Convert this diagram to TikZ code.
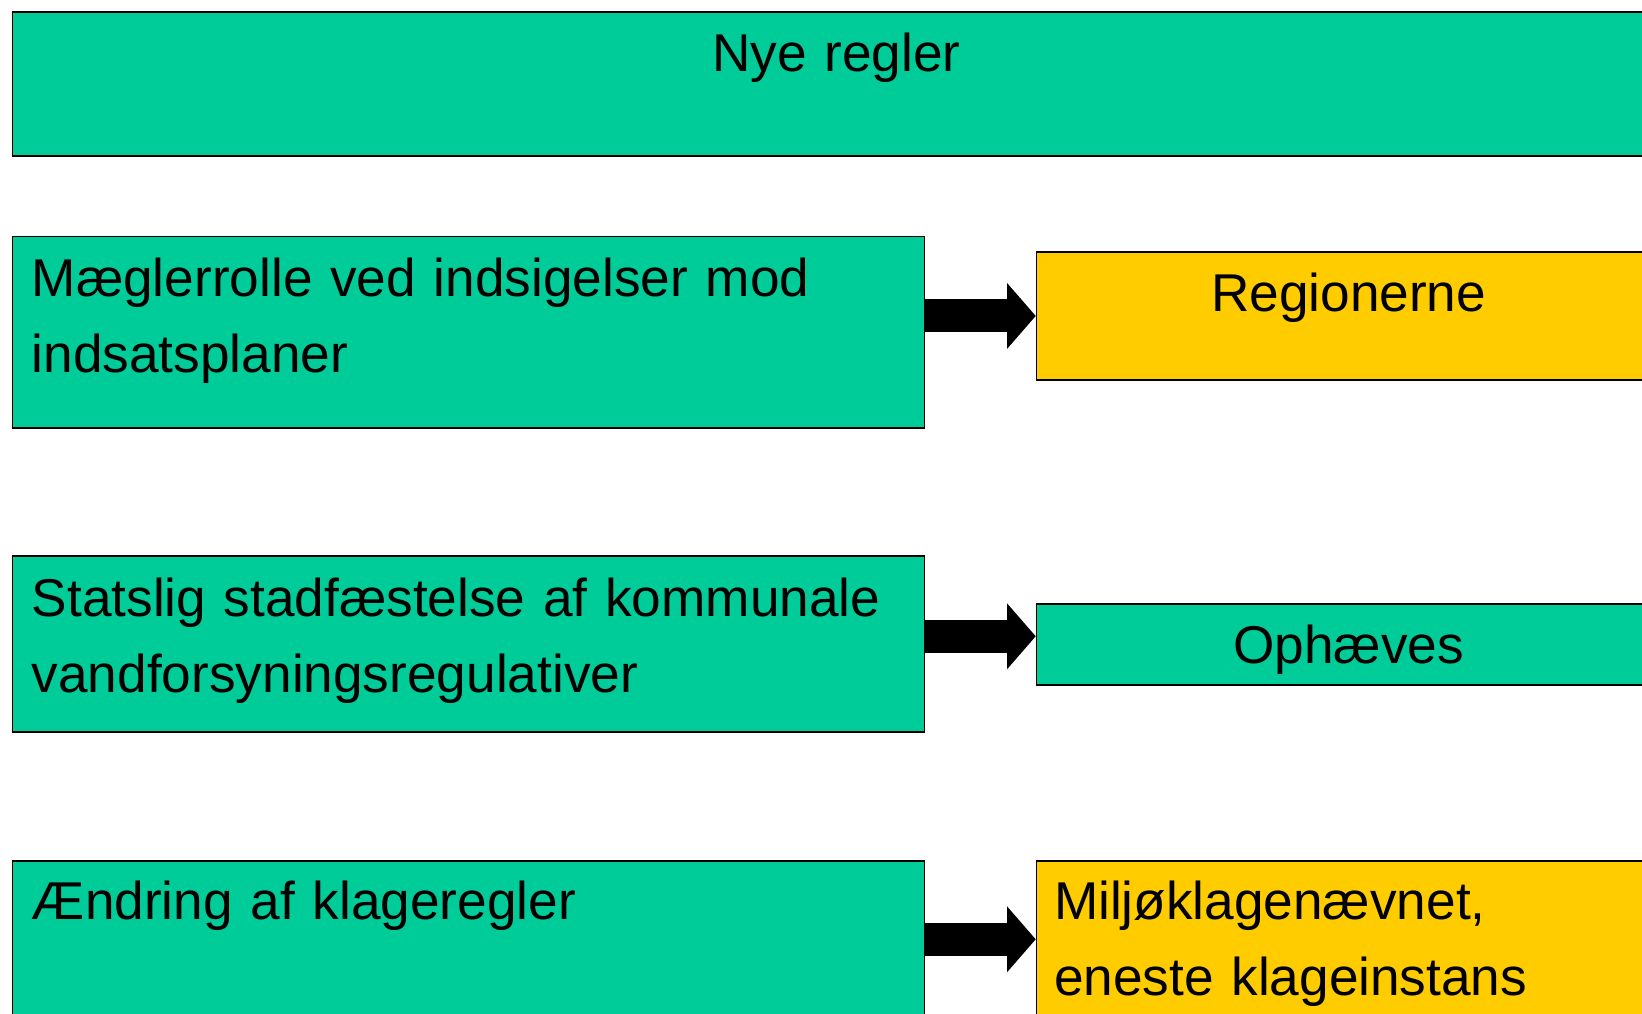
\documentclass[tikz,border=0pt]{standalone}
\usepackage{fontspec}
\setmainfont{Liberation Sans}
\usetikzlibrary{arrows.meta}
\definecolor{groen}{HTML}{00CC99}
\definecolor{gul}{HTML}{FFCC00}

\begin{document}
\begin{tikzpicture}
[x=1pt, y=-1pt,
boks/.style ={rectangle, draw=black, line width=1.6pt, anchor=north west, inner sep=0pt, font=\fontsize{53.2}{76}\selectfont},
groenboks/.style ={boks, fill=groen},
gulboks/.style ={boks, fill=gul},
venstre/.style ={align=left, inner xsep=19.5pt, text width=873.1pt},
hoejre/.style ={align=center, text width=624.3pt},
pil/.style ={draw=black, line width=33pt, -{Triangle[length=28.7pt, width=66pt, line width=0pt]}}]
\useasboundingbox (0, 0) rectangle (1642, 1014);
\fill[white] (0, 0) rectangle (1642, 1014);
\clip (0, 0) rectangle (1642, 1014);
\node[groenboks, align=center, text width=1648.5pt, text height=59.5pt, text depth=84pt] (nye) at (11.5, 11.5) {Nye regler};
\node[groenboks, venstre, text height=60.4pt, text depth=131.3pt] (maegler) at (11.5, 235.6) {Mæglerrolle ved indsigelser mod\\indsatsplaner};
\node[gulboks, hoejre, text height=59.7pt, text depth=68pt] (region) at (1035.7, 251.3) {Regionerne};
\node[groenboks, venstre, text height=60.4pt, text depth=115.6pt] (statslig) at (11.5, 555) {Statslig stadfæstelse af kommunale\\vandforsyningsregulativer};
\node[groenboks, hoejre, text height=60pt, text depth=21pt] (ophaev) at (1035.7, 603) {Ophæves};
\node[groenboks, venstre, text height=59pt, text depth=141pt] (klage) at (11.5, 860) {Ændring af klageregler};
\node[gulboks, align=left, inner xsep=17.5pt, text width=589.3pt, text height=59pt, text depth=141pt] (miljoe) at (1035.7, 860) {Miljøklagenævnet,\\eneste klageinstans};
\coordinate (pilB) at ([yshift=8pt]ophaev.west);
\coordinate (pilC) at ([yshift=-79.3pt]miljoe.north west);
\draw[pil] (maegler.east |- region.west) -- (region.west);
\draw[pil] (statslig.east |- pilB) -- (pilB);
\draw[pil] (klage.east |- pilC) -- (pilC);
\end{tikzpicture}
\end{document}
